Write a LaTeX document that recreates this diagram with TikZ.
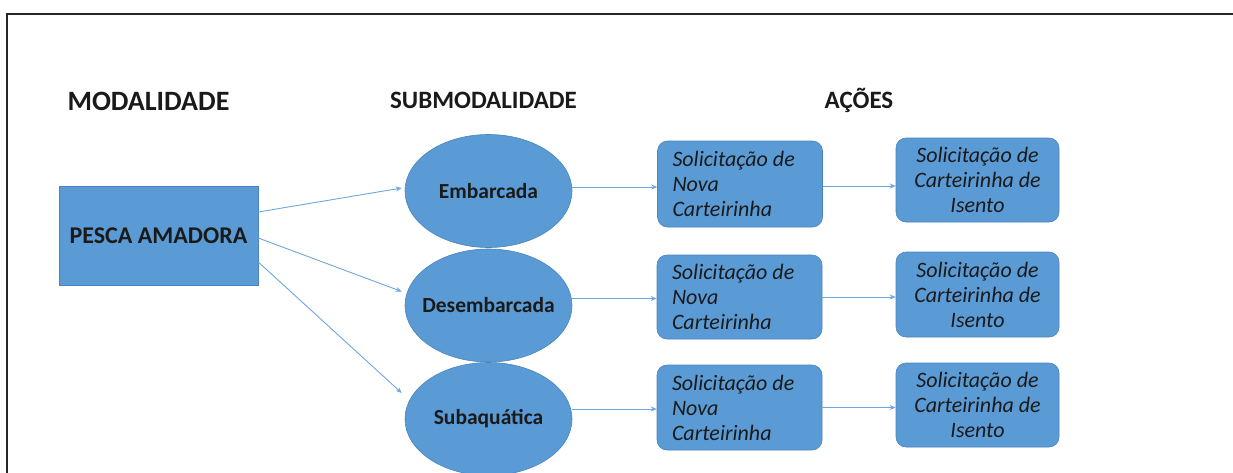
\documentclass[tikz,border=0pt]{standalone}
\usepackage{fontspec}
\setmainfont{Carlito}
\usetikzlibrary{shapes.geometric,arrows.meta}
\definecolor{boxblue}{HTML}{5B9BD5}
\definecolor{edgeblue}{HTML}{4A84BD}
\definecolor{arrowblue}{HTML}{6FA6DC}
\definecolor{txt}{HTML}{1A1A1A}
\begin{document}
\begin{tikzpicture}[x=1pt,y=-1pt,
 head/.style={font=\fontsize{25}{30}\selectfont\bfseries, inner sep=0, text=txt},
 modbox/.style={draw=edgeblue, fill=boxblue, line width=0.6pt, minimum width=199pt, minimum height=99pt, inner sep=0, font=\fontsize{24}{28}\selectfont\bfseries, text=txt},
 subell/.style={ellipse, draw=edgeblue, fill=boxblue, line width=0.6pt, minimum width=167pt, minimum height=113pt, inner sep=0, font=\fontsize{21.5}{24}\selectfont\bfseries, text=txt},
 actbox/.style={rectangle, rounded corners=10pt, draw=edgeblue, fill=boxblue, line width=0.6pt, minimum width=165pt, minimum height=85pt, inner sep=0, font=\fontsize{22}{25}\selectfont\itshape, text=txt},
 newbox/.style={actbox, align=flush left, text width=135pt},
 isbox/.style={actbox, align=center, minimum width=163pt},
 conn/.style={draw=arrowblue, line width=0.9pt, -{Stealth[length=6pt,width=5pt]}}
]
\useasboundingbox (0,0) rectangle (1233,472);
\draw[line width=1.4pt, black!85] (7,490) -- (7,14) -- (1250,14);

\node[head, font=\fontsize{28}{32}\selectfont\bfseries] (hmod) at (148.5,101.5) {MODALIDADE};
\node[head] (hsub) at (483.5,100) {SUBMODALIDADE};
\node[head] (hac) at (859,100) {AÇÕES};

\node[modbox] (pesca) at (158.5,236) {PESCA AMADORA};

\node[subell] (emb) at (488.5,191) {\makebox[0pt]{Embarcada}};
\node[subell] (des) at (488.5,305.5) {\makebox[0pt]{Desembarcada}};
\node[subell] (sub) at (488.5,419) {\makebox[0pt]{Subaquática}};

\node[newbox, minimum height=86pt] (a11) at (740,184) {Solicitação de\\Nova\\Carteirinha};
\node[newbox, minimum height=84pt] (a21) at (739.5,297) {Solicitação de\\Nova\\Carteirinha};
\node[newbox] (a31) at (739.5,407.5) {Solicitação de\\Nova\\Carteirinha};

\node[isbox, minimum height=84pt] (a12) at (977.5,180) {Solicitação de\\Carteirinha de\\Isento};
\node[isbox] (a22) at (977.5,294.5) {Solicitação de\\Carteirinha de\\Isento};
\node[isbox, minimum height=84pt] (a32) at (977.5,405) {Solicitação de\\Carteirinha de\\Isento};

\draw[conn] ([yshift=24pt]pesca.east) -- ([xshift=-3pt,yshift=3pt]emb.west);
\draw[conn] ([yshift=-2pt]pesca.east) -- ([xshift=-3pt,yshift=14pt]des.west);
\draw[conn] ([yshift=-26pt]pesca.east) -- ([xshift=-3pt,yshift=26pt]sub.west);

\draw[conn] ([yshift=4pt]emb.east) -- ([yshift=4pt]emb.east -| a11.west);
\draw[conn] ([yshift=7pt]des.east) -- ([yshift=7pt]des.east -| a21.west);
\draw[conn] ([yshift=10pt]sub.east) -- ([yshift=10pt]sub.east -| a31.west);

\draw[conn] ([yshift=-2pt]a11.east) -- ([yshift=-2pt]a11.east -| a12.west);
\draw[conn] (a21.east) -- (a21.east -| a22.west);
\draw[conn] (a31.east) -- (a31.east -| a32.west);
\end{tikzpicture}
\end{document}
